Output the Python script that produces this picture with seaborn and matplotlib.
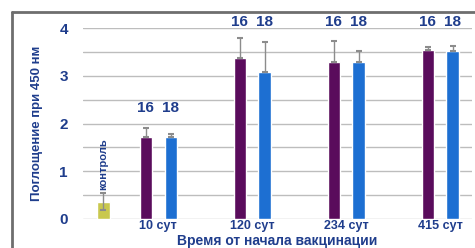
import pandas as pd
import matplotlib.pyplot as plt
import seaborn as sns
from matplotlib.lines import Line2D

# data
days = ['10 сут', '120 сут', '234 сут', '415 сут']
group_16 = [1.72, 3.37, 3.29, 3.54]
group_18 = [1.72, 3.08, 3.29, 3.52]
err_16 = [0.18, 0.42, 0.44, 0.06]
err_18 = [0.06, 0.62, 0.23, 0.10]
control_val = 0.36
control_err = 0.18
groups = ['16', '18']

navy = '#1f3d8c'
purple = '#5a0c5c'
blue = '#1d6fd2'
yellow = '#c9c84e'

sns.set_style('white')
plt.rcParams['font.family'] = ['Liberation Sans', 'DejaVu Sans']
plt.rcParams['font.weight'] = 'bold'

df = pd.DataFrame({
    'day': days * 2,
    'group': ['16'] * len(days) + ['18'] * len(days),
    'value': group_16 + group_18,
})

fig = plt.figure(figsize=(4.75, 2.48), dpi=100)
ax = fig.add_axes([0.175, 0.117, 0.819, 0.77])

sns.barplot(data=df, x='day', y='value', hue='group', order=days, hue_order=groups,
            palette=[purple, blue], width=0.53, gap=0.5, errorbar=None,
            saturation=1, legend=False, ax=ax, zorder=3)

# error bars (upper only) on the vaccine bars
for cont, errs in zip(ax.containers, [err_16, err_18]):
    for bar, e in zip(cont, errs):
        xc = bar.get_x() + bar.get_width() / 2
        ax.errorbar(xc, bar.get_height(), yerr=[[0], [e]], ecolor='#8c8c8c',
                    elinewidth=1, capsize=2.5, capthick=1.5, fmt='none', zorder=4)
bar_w = ax.containers[0][0].get_width()

# control bar
ctrl_x = -0.585
ax.bar(ctrl_x, control_val, width=bar_w, color=yellow, zorder=3)
ax.errorbar(ctrl_x, control_val, yerr=control_err, ecolor='#8c8c8c', elinewidth=1,
            capsize=2.5, capthick=1.5, fmt='none', zorder=4)
ax.text(ctrl_x, 1.15, 'контроль', rotation=90, ha='center', va='center',
        color=navy, fontsize=8, fontweight='bold')

# group numbers above bars
for cont, name in zip(ax.containers, groups):
    for i, bar in enumerate(cont):
        xc = bar.get_x() + bar.get_width() / 2
        ty = 2.32 if i == 0 else 4.13
        ax.text(xc, ty, name, ha='center', va='center', color=navy,
                fontsize=11, fontweight='bold', clip_on=False)

ax.set_xlim(-0.8, 3.34)
ax.set_ylim(0, 4)
ax.set_yticks([0, 1, 2, 3, 4])
ax.set_yticks([0.5, 1.5, 2.5, 3.5], minor=True)
ax.grid(axis='y', which='both', color='#bdbdbd', linewidth=1, zorder=0)
for s in ax.spines.values():
    s.set_visible(False)
ax.tick_params(axis='y', which='major', length=3, color='#bdbdbd', labelsize=11,
               labelcolor=navy, pad=8)
ax.tick_params(axis='y', which='minor', length=3, color='#bdbdbd')
ax.tick_params(axis='x', length=0, labelsize=9, labelcolor=navy, pad=1)
for lab in ax.get_xticklabels() + ax.get_yticklabels():
    lab.set_fontweight('bold')

ax.set_ylabel('Поглощение при 450 нм', color=navy, fontsize=9.5, fontweight='bold', labelpad=12)
ax.set_xlabel('Время от начала вакцинации', color=navy, fontsize=10, fontweight='bold', labelpad=1)

# partial frame around the picture
fig.add_artist(Line2D([12 / 475, 12 / 475], [0, 1 - 12 / 248], color='#6e6e6e', linewidth=2))
fig.add_artist(Line2D([12 / 475, 1], [1 - 12 / 248, 1 - 12 / 248], color='#6e6e6e', linewidth=2))

fig.savefig('out.png', dpi=100)
